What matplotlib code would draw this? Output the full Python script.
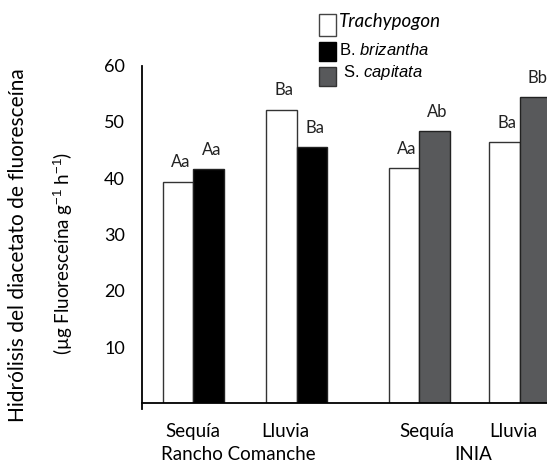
import matplotlib
matplotlib.use('Agg')
import matplotlib.pyplot as plt
from matplotlib.patches import Rectangle

plt.rcParams['font.family'] = ['Lato', 'DejaVu Sans']
plt.rcParams['mathtext.fontset'] = 'custom'
plt.rcParams['mathtext.rm'] = 'Liberation Sans'
plt.rcParams['mathtext.it'] = 'Liberation Sans:italic'

# data
sites = ['Rancho Comanche', 'INIA']
seasons = ['Sequía', 'Lluvia', 'Sequía', 'Lluvia']
trachypogon = [39.4, 52.2, 41.8, 46.5]      # RC seq, RC lluv, INIA seq, INIA lluv
brizantha = [41.6, 45.6]                    # Rancho Comanche
capitata = [48.4, 54.4]                     # INIA
letters_trach = ['Aa', 'Ba', 'Aa', 'Ba']
letters_other = ['Aa', 'Ba', 'Ab', 'Bb']

W, H = 547, 463
fig = plt.figure(figsize=(W / 100, H / 100), dpi=100)
x0, y0, ytop = 141.7, 403.3, 65.7
ppu = 30.5  # pixels per bar width
ax = fig.add_axes([x0 / W, 1 - y0 / H, 1 - x0 / W, (y0 - ytop) / H])

pair_x = [1.69, 5.08, 9.10, 12.40]   # layout: centre of each bar pair
label_x = [1.68, 4.70, 9.35, 12.17]

other = brizantha + capitata
other_col = ['black', 'black', '#58595b', '#58595b']
for i in range(4):
    ax.bar(pair_x[i] - 0.5, trachypogon[i], width=1.0, color='white',
           edgecolor='#333333', linewidth=1)
    ax.bar(pair_x[i] + 0.5, other[i], width=1.0, color=other_col[i],
           edgecolor='#222222', linewidth=1)
    for dx, val, lab in [(-0.5, trachypogon[i], letters_trach[i]),
                         (0.5, other[i], letters_other[i])]:
        ax.annotate(lab, (pair_x[i] + dx, val), xytext=(2, 8),
                    textcoords='offset points', ha='center', va='bottom',
                    fontsize=12, color='#222222', annotation_clip=False)

ax.set_xlim(0, (W - x0) / ppu)
ax.set_ylim(0, 60)
ax.set_yticks([10, 20, 30, 40, 50, 60])
ax.set_xticks(label_x)
ax.set_xticklabels(seasons)
ax.tick_params(axis='y', length=0, pad=12, labelsize=13)
ax.tick_params(axis='x', length=0, pad=14, labelsize=13.5)
for s in ['top', 'right']:
    ax.spines[s].set_visible(False)
ax.spines['left'].set_bounds(-1.1, 60)
ax.spines['left'].set_linewidth(1.3)
ax.spines['bottom'].set_linewidth(1.3)

# site names under the season labels
fig.text(238 / W, 1 - 455 / H, sites[0], ha='center', va='center', fontsize=13.5)
fig.text(473 / W, 1 - 455 / H, sites[1], ha='center', va='center', fontsize=13.5)

# y label (two lines)
fig.text(18.5 / W, 1 - 245 / H, 'Hidrólisis del diacetato de fluoresceína',
         rotation=90, ha='center', va='center', fontsize=15)
fig.text(63 / W, 1 - 253 / H, r'(µg Fluoresceína g$^{-1}$ h$^{-1}$)',
         rotation=90, ha='center', va='center', fontsize=13.5)

# legend drawn by hand
leg = [('Trachypogon', 'white', '#444444', 14, 36),
       (r'B. $\mathit{brizantha}$', 'black', 'black', 42, 61),
       (r'S. $\mathit{capitata}$', '#58595b', '#333333', 67, 86)]
for k, (txt, fc, ec, yt, yb) in enumerate(leg):
    fig.add_artist(Rectangle((319.3 / W, 1 - yb / H), 16.4 / W, (yb - yt) / H,
                             transform=fig.transFigure, facecolor=fc,
                             edgecolor=ec, linewidth=1))
    if k == 0:
        fig.text(339 / W, 1 - 21 / H, txt, style='italic', fontsize=13.5,
                 va='center', ha='left')
    else:
        fig.text((339 + 4 * (k - 1)) / W, 1 - (50 + 22 * (k - 1)) / H, txt,
                 family='Liberation Sans', fontsize=12, va='center', ha='left')

fig.savefig('out.png', dpi=100)
